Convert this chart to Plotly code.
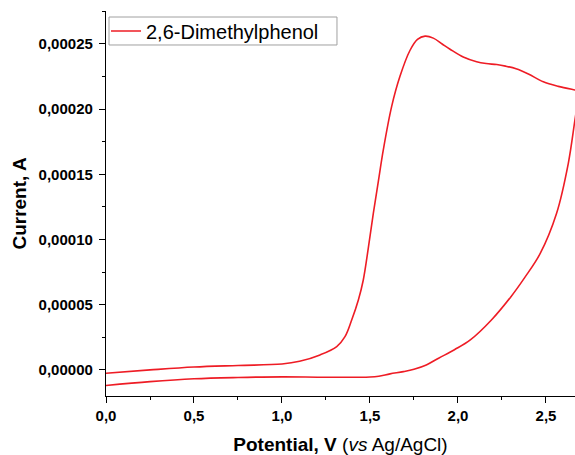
import plotly.graph_objects as go

# Forward (anodic) scan
fwd_v = [0.0, 0.25, 0.5, 0.75, 1.0, 1.1, 1.216, 1.311, 1.358, 1.396, 1.434, 1.462, 1.49,
         1.519, 1.548, 1.576, 1.623, 1.670, 1.727, 1.77, 1.813, 1.86, 1.91, 1.955, 2.03,
         2.106, 2.16, 2.22, 2.27, 2.33, 2.40, 2.485, 2.57, 2.665, 2.69]
fwd_i = [-2.5e-6, 0.0, 2.2e-6, 3.4e-6, 4.5e-6, 6.6e-6, 1.15e-5, 1.79e-5, 2.55e-5, 3.83e-5,
         5.37e-5, 6.9e-5, 9.3e-5, 1.2e-4, 1.45e-4, 1.69e-4, 2.02e-4, 2.25e-4, 2.45e-4,
         2.535e-4, 2.56e-4, 2.545e-4, 2.5e-4, 2.46e-4, 2.40e-4, 2.364e-4, 2.35e-4,
         2.342e-4, 2.33e-4, 2.31e-4, 2.27e-4, 2.21e-4, 2.175e-4, 2.147e-4, 2.14e-4]

# Reverse (cathodic) scan
rev_v = [2.69, 2.665, 2.627, 2.56, 2.466, 2.38, 2.30, 2.19, 2.07, 1.98, 1.89, 1.82,
         1.75, 1.69, 1.614, 1.55, 1.5, 1.25, 1.0, 0.75, 0.5, 0.25, 0.0]
rev_i = [2.14e-4, 1.92e-4, 1.585e-4, 1.2e-4, 8.9e-5, 7.1e-5, 5.6e-5, 3.83e-5, 2.3e-5,
         1.55e-5, 9.0e-6, 3.8e-6, 0.5e-6, -1.3e-6, -3.0e-6, -4.8e-6, -5.4e-6, -5.6e-6,
         -5.3e-6, -5.8e-6, -6.8e-6, -9.0e-6, -1.2e-5]

series_name = "2,6-Dimethylphenol"

x_ticks = [0, 0.5, 1.0, 1.5, 2.0, 2.5]
x_minor = [0.25, 0.75, 1.25, 1.75, 2.25]
y_ticks = [0, 0.00005, 0.0001, 0.00015, 0.0002, 0.00025]
y_minor = [-0.000025, 0.000025, 0.000075, 0.000125, 0.000175, 0.000225, 0.000275]

fig = go.Figure()
fig.add_trace(go.Scatter(
    x=fwd_v + rev_v, y=fwd_i + rev_i, mode="lines", name=series_name,
    line=dict(color="#ee1c25", width=1.6, shape="spline", smoothing=1.0),
    showlegend=True,
))

font_family = "Liberation Sans, Arial, sans-serif"

# legend frame
fig.add_shape(type="rect", xref="paper", yref="paper",
              x0=0.0064, x1=0.4925, y0=0.9117, y1=0.9844,
              line=dict(color="#a0a0a0", width=1), fillcolor="rgba(0,0,0,0)", layer="above")

fig.update_layout(
    width=575, height=455,
    margin=dict(l=106, r=0, t=11, b=59),
    paper_bgcolor="white", plot_bgcolor="white",
    separators=",.",
    font=dict(family=font_family, color="#000000"),
    showlegend=True,
    legend=dict(
        x=0.0, y=0.948, xanchor="left", yanchor="middle",
        borderwidth=0, bgcolor="rgba(0,0,0,0)",
        font=dict(size=20, family=font_family, color="#000000"),
        tracegroupgap=0, itemwidth=30,
    ),
    xaxis=dict(
        range=[0, 2.665], tickmode="array",
        tickvals=x_ticks, tickformat=".1f",
        showline=True, linecolor="#000000", linewidth=1.3,
        ticks="outside", ticklen=6, tickwidth=1.3, tickcolor="#000000",
        minor=dict(tickvals=x_minor, ticks="outside",
                   ticklen=3, tickwidth=1.2, tickcolor="#000000"),
        showgrid=False, zeroline=False, mirror=False,
        tickfont=dict(size=15, family=font_family, weight="bold"),
        title=dict(text="<b>Potential, V</b> (<i>vs</i> Ag/AgCl)",
                   font=dict(size=19, family=font_family), standoff=15),
    ),
    yaxis=dict(
        range=[-0.00002, 0.0002753], tickmode="array",
        tickvals=y_ticks, tickformat=".5f",
        showline=True, linecolor="#000000", linewidth=1.3,
        ticks="outside", ticklen=6, tickwidth=1.3, tickcolor="#000000",
        ticklabelstandoff=3,
        minor=dict(tickvals=y_minor,
                   ticks="outside", ticklen=3, tickwidth=1.2, tickcolor="#000000"),
        showgrid=False, zeroline=False, mirror=False,
        tickfont=dict(size=15, family=font_family, weight="bold"),
        title=dict(text="<b>Current, A</b>", font=dict(size=19, family=font_family), standoff=6),
    ),
)

fig.write_html("out.html")
